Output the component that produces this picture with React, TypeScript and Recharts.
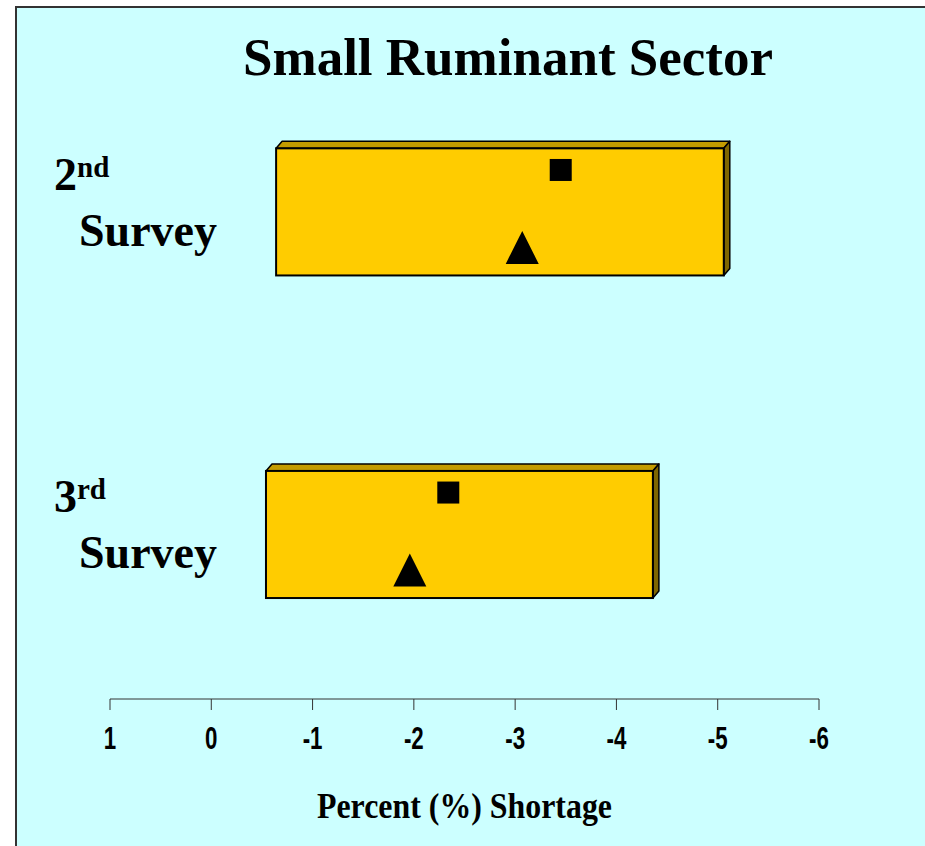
import React from 'react';
import {
  ScatterChart,
  Scatter,
  XAxis,
  YAxis,
  ReferenceArea,
} from 'recharts';

// rows, top to bottom
const surveyNumbers = ['2', '3'];
const surveySuffixes = ['nd', 'rd'];
// range of each survey (percent shortage)
const rangeStart = [-0.64, -0.54];
const rangeEnd = [-5.06, -4.36];
// marker values
const squareValues = [-3.45, -2.34];
const triangleValues = [-3.07, -1.96];
const xTicks = [1, 0, -1, -2, -3, -4, -5, -6];
const rowTicks = [0, 1];

const BAR_HALF = 0.197;
const SQUARE_OFFSET = -0.13;
const TRIANGLE_OFFSET = 0.11;

const serif = "'Liberation Serif', 'Times New Roman', serif";
const sans = "'Liberation Sans', Arial, sans-serif";

const squareData = squareValues.map((v, i) => ({ x: v, y: i + SQUARE_OFFSET }));
const triangleData = triangleValues.map((v, i) => ({ x: v, y: i + TRIANGLE_OFFSET }));

const DEPTH_X = 6;
const DEPTH_Y = 7;

function BoxShape(props: any) {
  const { x, y, width: w, height: h } = props;
  if (w == null || h == null) return null;
  return (
    <g>
      <polygon
        points={`${x},${y} ${x + DEPTH_X},${y - DEPTH_Y} ${x + w + DEPTH_X},${y - DEPTH_Y} ${x + w},${y}`}
        fill="#C49C00"
        stroke="#000"
        strokeWidth={1.5}
        strokeLinejoin="round"
      />
      <polygon
        points={`${x + w},${y} ${x + w + DEPTH_X},${y - DEPTH_Y} ${x + w + DEPTH_X},${y + h - DEPTH_Y} ${x + w},${y + h}`}
        fill="#7F6600"
        stroke="#000"
        strokeWidth={1.5}
        strokeLinejoin="round"
      />
      <rect x={x} y={y} width={w} height={h} fill="#FFCC00" stroke="#000" strokeWidth={2} />
    </g>
  );
}

const SquareMark = (p: any) => (
  <rect x={p.cx - 11} y={p.cy - 11} width={22} height={22} fill="#000" />
);

const TriangleMark = (p: any) => (
  <polygon
    points={`${p.cx},${p.cy - 16.5} ${p.cx + 16.5},${p.cy + 16.5} ${p.cx - 16.5},${p.cy + 16.5}`}
    fill="#000"
  />
);

// condensed bold sans, like Arial Narrow
function XTick(props: any) {
  const { x, y, payload } = props;
  return (
    <g transform={`translate(${x},${y + 37})`}>
      <text
        transform="scale(0.72,1)"
        textAnchor="middle"
        fontFamily={sans}
        fontWeight="bold"
        fontSize={31}
        fill="#000"
      >
        {payload.value}
      </text>
    </g>
  );
}

function SurveyTick(props: any) {
  const { y, payload } = props;
  const i = payload.value as number;
  return (
    <text fontFamily={serif} fontWeight="bold" fill="#000">
      <tspan x={37} y={y - 22} fontSize={46}>
        {surveyNumbers[i]}
      </tspan>
      <tspan dy={-13} fontSize={29}>
        {surveySuffixes[i]}
      </tspan>
      <tspan x={62} y={y + 34} fontSize={46}>
        Survey
      </tspan>
    </text>
  );
}

function AxisTitle(props: any) {
  const { viewBox } = props;
  if (!viewBox) return null;
  return (
    <text
      x={viewBox.x + viewBox.width / 2}
      y={viewBox.y + 119}
      textAnchor="middle"
      fontFamily={serif}
      fontWeight="bold"
      fontSize={35}
      textLength={295}
      lengthAdjust="spacingAndGlyphs"
      fill="#000"
    >
      Percent (%) Shortage
    </text>
  );
}

export default function App() {
  return (
    <div
      style={{
        position: 'absolute',
        left: 15,
        top: 6,
        width: 908,
        height: 838,
        borderLeft: '2px solid #333',
        borderTop: '2px solid #333',
        background: '#CCFFFF',
        overflow: 'hidden',
      }}
    >
      <ScatterChart
        width={908}
        height={838}
        margin={{ top: 91, right: 106, left: 43, bottom: 87 }}
      >
        <XAxis
          type="number"
          dataKey="x"
          domain={[-6, 1]}
          ticks={xTicks}
          interval={0}
          reversed
          allowDataOverflow
          stroke="#333"
          tickSize={11}
          height={60}
          tick={<XTick />}
          label={<AxisTitle />}
        />
        <YAxis
          type="number"
          dataKey="y"
          domain={[-0.35, 1.51]}
          ticks={rowTicks}
          interval={0}
          reversed
          allowDataOverflow
          width={50}
          axisLine={false}
          tickLine={false}
          tick={<SurveyTick />}
        />
        {rangeStart.map((s, i) => (
          <ReferenceArea
            key={i}
            x1={s}
            x2={rangeEnd[i]}
            y1={i - BAR_HALF}
            y2={i + BAR_HALF}
            shape={<BoxShape />}
          />
        ))}
        <Scatter data={squareData} shape={<SquareMark />} isAnimationActive={false} />
        <Scatter data={triangleData} shape={<TriangleMark />} isAnimationActive={false} />
      </ScatterChart>
      <div
        style={{
          position: 'absolute',
          left: 191,
          top: 23,
          width: 600,
          textAlign: 'center',
          fontFamily: serif,
          fontWeight: 'bold',
          fontSize: 53,
          lineHeight: '53px',
          color: '#000',
          whiteSpace: 'nowrap',
        }}
      >
        Small Ruminant Sector
      </div>
    </div>
  );
}
